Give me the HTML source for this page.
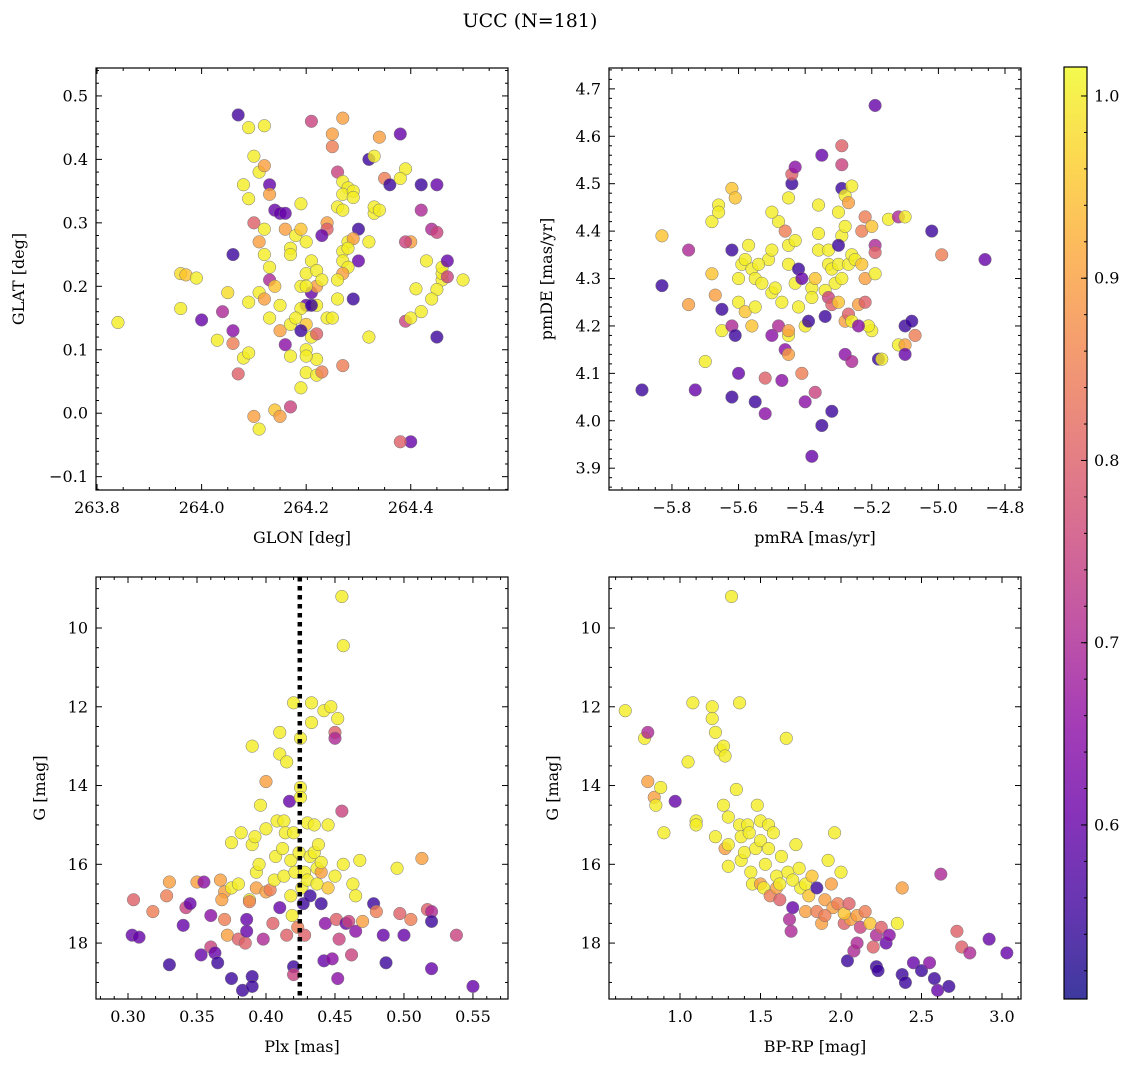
<!DOCTYPE html>
<html><head><meta charset="utf-8">
<style>
html,body{margin:0;padding:0;background:#fff;}
svg{display:block;font-family:"DejaVu Serif","Liberation Serif",serif;}
</style></head>
<body>
<svg id="fig" width="1136" height="1067" viewBox="0 0 1136 1067" xmlns="http://www.w3.org/2000/svg">
<defs>
<linearGradient id="cbgrad" x1="0" y1="1" x2="0" y2="0">
<stop offset="0" stop-color="#0d0887"/><stop offset="0.1" stop-color="#41049d"/><stop offset="0.2" stop-color="#6a00a8"/><stop offset="0.3" stop-color="#8f0da4"/><stop offset="0.4" stop-color="#b12a90"/><stop offset="0.5" stop-color="#cc4778"/><stop offset="0.6" stop-color="#e16462"/><stop offset="0.7" stop-color="#f2844b"/><stop offset="0.8" stop-color="#fca636"/><stop offset="0.9" stop-color="#fcce25"/><stop offset="1" stop-color="#f0f921"/>
</linearGradient>
</defs>
<text x="530" y="27" text-anchor="middle" font-size="19">UCC (N=181)</text>
</svg>
<script>
// ---- data ----
const p1X=[263.84,263.96,263.97,263.99,263.96,264.0,264.03,264.04,264.05,264.06,264.06,264.06,264.07,264.08,264.09,264.09,264.07,264.09,264.11,264.1,264.08,264.09,264.12,264.13,264.13,264.14,264.15,264.16,264.12,264.1,264.11,264.12,264.13,264.13,264.11,264.12,264.13,264.14,264.15,264.15,264.16,264.17,264.17,264.12,264.16,264.18,264.17,264.17,264.19,264.19,264.2,264.21,264.2,264.19,264.21,264.22,264.22,264.23,264.2,264.19,264.18,264.2,264.21,264.22,264.2,264.22,264.2,264.19,264.2,264.22,264.23,264.14,264.15,264.1,264.11,264.17,264.19,264.22,264.24,264.25,264.27,264.21,264.27,264.25,264.25,264.26,264.27,264.28,264.27,264.29,264.24,264.24,264.26,264.27,264.29,264.3,264.28,264.29,264.27,264.27,264.28,264.3,264.28,264.27,264.26,264.29,264.32,264.33,264.33,264.34,264.32,264.33,264.34,264.35,264.36,264.38,264.39,264.38,264.4,264.39,264.39,264.4,264.42,264.41,264.42,264.42,264.43,264.44,264.45,264.45,264.46,264.46,264.46,264.47,264.47,264.5,264.45,264.44,264.45,264.4,264.38,264.32,264.21,264.2,264.23,264.26];
const p1Y=[0.143,0.22,0.218,0.213,0.165,0.147,0.115,0.16,0.19,0.25,0.13,0.11,0.062,0.087,0.175,0.095,0.47,0.45,0.38,0.405,0.36,0.338,0.39,0.36,0.345,0.32,0.315,0.315,0.453,0.3,0.27,0.25,0.23,0.21,0.19,0.18,0.15,0.2,0.17,0.13,0.108,0.14,0.09,0.29,0.29,0.28,0.26,0.25,0.33,0.29,0.27,0.24,0.22,0.2,0.19,0.2,0.225,0.21,0.17,0.165,0.15,0.14,0.12,0.125,0.1,0.085,0.09,0.04,0.064,0.06,0.065,0.005,-0.005,-0.005,-0.025,0.01,0.13,0.17,0.15,0.15,0.075,0.46,0.465,0.44,0.42,0.38,0.365,0.355,0.345,0.35,0.3,0.29,0.325,0.32,0.34,0.29,0.27,0.275,0.255,0.24,0.26,0.24,0.23,0.22,0.21,0.18,0.27,0.315,0.325,0.32,0.4,0.405,0.435,0.37,0.36,0.44,0.385,0.37,0.27,0.27,0.145,0.15,0.16,0.196,0.36,0.32,0.24,0.29,0.285,0.36,0.21,0.22,0.23,0.24,0.215,0.21,0.195,0.18,0.12,-0.045,-0.045,0.12,0.17,0.2,0.28,0.18];
const p1C=[1.0,0.98,0.95,1.0,1.0,0.6,1.0,0.7,0.98,0.55,0.65,0.85,0.8,1.0,1.0,1.0,0.56,1.0,1.0,1.0,1.0,1.0,0.9,0.6,0.9,0.6,0.6,0.6,1.0,0.8,0.9,1.0,1.0,0.7,1.0,0.9,1.0,0.95,1.0,0.9,0.65,1.0,1.0,1.0,0.9,1.0,1.0,1.0,1.0,0.95,1.0,1.0,1.0,1.0,0.6,0.9,1.0,1.0,0.6,1.0,1.0,0.95,1.0,0.8,1.0,1.0,1.0,1.0,1.0,1.0,0.85,0.95,0.9,0.9,1.0,0.75,0.55,1.0,1.0,1.0,0.85,0.75,0.9,0.9,0.85,0.75,1.0,1.0,1.0,1.0,0.9,0.8,1.0,1.0,1.0,0.55,1.0,0.9,1.0,1.0,1.0,0.6,1.0,0.9,1.0,0.55,1.0,1.0,1.0,1.0,0.55,1.0,0.9,0.85,0.55,0.6,1.0,1.0,0.9,0.75,0.75,1.0,1.0,1.0,0.55,0.7,1.0,0.7,0.75,0.6,1.0,1.0,1.0,0.6,0.75,1.0,1.0,1.0,0.55,0.6,0.8,1.0,0.55,1.0,0.6,1.0];

const p2X=[-5.89,-5.83,-5.83,-5.75,-5.75,-5.73,-5.7,-5.68,-5.66,-5.66,-5.68,-5.67,-5.65,-5.65,-5.62,-5.62,-5.61,-5.6,-5.62,-5.62,-5.61,-5.6,-5.59,-5.58,-5.57,-5.56,-5.55,-5.6,-5.58,-5.56,-5.55,-5.55,-5.52,-5.52,-5.53,-5.51,-5.5,-5.49,-5.48,-5.5,-5.5,-5.48,-5.47,-5.46,-5.45,-5.47,-5.45,-5.45,-5.45,-5.46,-5.45,-5.45,-5.44,-5.44,-5.43,-5.43,-5.42,-5.41,-5.4,-5.41,-5.4,-5.39,-5.38,-5.37,-5.36,-5.36,-5.37,-5.36,-5.35,-5.34,-5.33,-5.33,-5.32,-5.31,-5.3,-5.34,-5.33,-5.32,-5.3,-5.29,-5.29,-5.28,-5.3,-5.29,-5.28,-5.27,-5.26,-5.27,-5.26,-5.25,-5.28,-5.27,-5.26,-5.29,-5.29,-5.3,-5.28,-5.26,-5.35,-5.32,-5.38,-5.23,-5.22,-5.23,-5.22,-5.24,-5.22,-5.2,-5.21,-5.19,-5.19,-5.19,-5.19,-5.18,-5.15,-5.12,-5.1,-5.12,-5.1,-5.1,-5.1,-5.08,-5.07,-5.02,-4.99,-4.86,-5.17,-5.2,-5.24,-5.38,-5.42,-5.43,-5.5,-5.54];
const p2Y=[4.065,4.285,4.39,4.36,4.245,4.065,4.125,4.42,4.455,4.44,4.31,4.265,4.235,4.19,4.05,4.2,4.18,4.1,4.36,4.49,4.47,4.3,4.33,4.34,4.37,4.32,4.3,4.25,4.23,4.2,4.24,4.04,4.015,4.09,4.29,4.34,4.27,4.28,4.42,4.44,4.18,4.2,4.25,4.15,4.14,4.085,4.33,4.18,4.19,4.4,4.37,4.47,4.5,4.52,4.535,4.29,4.32,4.3,4.2,4.1,4.04,4.21,4.28,4.3,4.36,4.395,4.06,4.455,4.56,4.22,4.33,4.36,4.32,4.29,4.33,4.275,4.26,4.245,4.25,4.3,4.39,4.41,4.44,4.49,4.475,4.46,4.495,4.33,4.35,4.34,4.21,4.225,4.21,4.58,4.54,4.37,4.14,4.125,3.99,4.02,3.925,4.33,4.3,4.4,4.43,4.245,4.25,4.19,4.2,4.37,4.355,4.31,4.665,4.13,4.425,4.43,4.43,4.16,4.16,4.2,4.14,4.21,4.18,4.4,4.35,4.34,4.13,4.41,4.2,4.26,4.24,4.38,4.36,4.33];
const p2C=[0.55,0.55,0.95,0.7,0.9,0.6,1.0,1.0,1.0,1.0,0.95,0.9,0.55,1.0,0.55,0.7,0.55,0.6,0.55,0.95,0.95,1.0,1.0,1.0,1.0,1.0,1.0,1.0,0.95,0.95,1.0,0.55,0.65,0.8,1.0,1.0,1.0,1.0,1.0,1.0,0.65,0.7,1.0,0.65,0.9,0.65,1.0,1.0,0.9,0.85,1.0,1.0,0.55,0.8,0.65,1.0,0.55,0.6,1.0,0.85,0.65,0.55,1.0,0.95,1.0,1.0,0.75,1.0,0.6,0.55,1.0,1.0,1.0,1.0,1.0,1.0,0.75,0.8,0.95,1.0,1.0,1.0,1.0,0.55,1.0,0.9,1.0,1.0,1.0,1.0,0.9,0.8,1.0,0.8,0.75,0.55,0.65,0.7,0.55,0.55,0.6,0.95,0.9,0.85,0.85,0.9,0.8,1.0,1.0,0.7,0.8,1.0,0.6,0.55,1.0,0.7,1.0,1.0,0.9,0.55,0.6,0.55,0.85,0.55,0.85,0.6,1.0,0.95,0.65,1.0,1.0,1.0,1.0,1.0];

const p3X=[0.303,0.308,0.304,0.318,0.328,0.33,0.33,0.34,0.342,0.35,0.353,0.355,0.36,0.363,0.365,0.367,0.37,0.368,0.37,0.372,0.375,0.375,0.375,0.38,0.38,0.382,0.383,0.385,0.386,0.386,0.388,0.388,0.39,0.39,0.39,0.39,0.392,0.393,0.393,0.395,0.396,0.398,0.4,0.4,0.403,0.4,0.405,0.406,0.407,0.408,0.41,0.41,0.41,0.412,0.413,0.414,0.413,0.415,0.415,0.417,0.418,0.418,0.419,0.42,0.42,0.42,0.42,0.421,0.423,0.424,0.425,0.425,0.425,0.426,0.427,0.428,0.428,0.43,0.43,0.432,0.432,0.433,0.433,0.435,0.435,0.437,0.437,0.438,0.44,0.44,0.44,0.442,0.442,0.443,0.445,0.445,0.447,0.448,0.45,0.45,0.45,0.451,0.452,0.452,0.453,0.455,0.455,0.456,0.456,0.458,0.46,0.462,0.463,0.465,0.465,0.468,0.47,0.478,0.48,0.485,0.487,0.495,0.497,0.5,0.505,0.513,0.517,0.52,0.52,0.52,0.538,0.55,0.345,0.36];
const p3Y=[17.8,17.85,16.9,17.2,16.8,16.45,18.55,17.55,17.1,16.45,18.3,16.45,18.1,18.25,18.5,16.4,16.7,16.9,17.4,17.8,16.6,15.45,18.9,17.9,16.5,15.2,19.2,18.0,17.4,17.7,16.9,16.95,15.5,13.0,18.85,19.1,15.3,16.2,16.6,16.0,14.5,17.9,15.1,16.7,16.65,13.9,17.5,16.4,15.8,14.9,17.1,12.65,13.2,15.6,14.9,15.2,16.3,13.4,17.8,14.4,16.8,15.9,17.3,18.6,18.8,15.2,11.9,16.2,17.6,15.7,12.8,14.05,14.3,16.6,17.0,16.2,17.8,14.95,16.4,15.8,16.8,12.4,11.9,15.0,15.7,16.1,16.5,15.5,17.0,16.2,15.95,12.1,18.45,17.5,15.0,16.6,12.0,18.4,16.3,12.65,12.8,17.4,12.3,18.9,17.9,14.65,9.2,10.45,16.0,17.5,17.45,18.3,16.5,16.8,17.7,15.9,17.45,17.0,17.2,17.8,18.5,16.1,17.25,17.8,17.4,15.85,17.15,17.2,18.65,17.45,17.8,19.1,17.0,17.3];
const p3C=[0.6,0.6,0.8,0.85,0.85,0.9,0.55,0.6,0.75,0.9,0.6,0.65,0.75,0.6,0.55,0.9,0.9,0.9,0.85,0.9,1.0,1.0,0.55,0.8,1.0,1.0,0.55,0.8,0.6,0.6,1.0,0.85,1.0,1.0,0.55,0.55,1.0,1.0,0.9,1.0,1.0,0.7,1.0,0.9,0.85,0.9,0.8,1.0,1.0,1.0,0.6,1.0,1.0,1.0,1.0,1.0,1.0,1.0,0.8,0.6,1.0,1.0,1.0,0.55,0.75,1.0,1.0,1.0,0.85,1.0,1.0,1.0,1.0,1.0,0.55,1.0,0.8,1.0,1.0,1.0,0.55,1.0,1.0,1.0,1.0,1.0,1.0,1.0,0.55,0.9,1.0,1.0,0.6,0.65,1.0,0.95,1.0,0.65,1.0,0.8,0.7,0.8,1.0,0.65,0.75,0.75,1.0,1.0,1.0,0.6,0.75,0.75,1.0,1.0,0.65,1.0,0.9,0.55,0.85,0.6,0.55,1.0,0.8,0.6,0.85,0.9,0.8,0.7,0.6,0.55,0.75,0.6,0.6,0.65];

const p4X=[0.66,0.78,0.8,0.8,0.84,0.85,0.88,0.9,0.97,1.05,1.08,1.1,1.1,1.2,1.2,1.22,1.25,1.27,1.28,1.22,1.27,1.3,1.28,1.3,1.3,1.32,1.37,1.35,1.37,1.38,1.38,1.42,1.4,1.43,1.44,1.45,1.47,1.48,1.5,1.5,1.5,1.52,1.53,1.55,1.55,1.56,1.58,1.6,1.6,1.62,1.63,1.66,1.67,1.68,1.69,1.7,1.72,1.74,1.75,1.78,1.78,1.8,1.82,1.85,1.88,1.9,1.92,1.94,1.95,1.96,1.98,2.0,2.02,2.04,2.06,2.08,2.1,2.1,2.12,2.15,2.18,2.2,2.22,2.22,2.23,2.25,2.28,2.3,2.35,2.38,2.38,2.4,2.45,2.5,2.55,2.58,2.6,2.62,2.67,2.72,2.75,2.8,2.92,3.03,1.62,1.7,1.85,1.9,2.02,2.05];
const p4Y=[12.1,12.8,12.65,13.9,14.3,14.5,14.05,15.2,14.4,13.4,11.9,14.9,15.0,12.0,12.3,12.65,13.1,13.0,13.25,15.3,14.5,14.8,15.6,15.5,16.05,9.2,11.9,14.1,15.0,15.3,15.9,15.0,15.7,15.2,16.2,16.5,15.6,14.5,14.9,15.4,16.5,16.6,16.0,15.0,15.6,16.8,15.2,16.3,16.6,16.9,15.8,12.8,16.2,17.4,17.7,17.1,15.5,16.1,16.6,16.5,17.2,16.8,16.3,16.6,17.5,16.9,15.9,16.5,17.1,15.2,17.0,16.2,17.5,18.45,17.4,18.2,17.3,18.0,17.6,17.2,17.5,18.1,17.8,18.6,18.7,17.6,18.0,17.8,17.5,16.6,18.8,19.0,18.5,18.7,18.5,18.9,19.2,16.25,19.1,17.7,18.1,18.25,17.9,18.25,16.5,16.4,17.2,17.3,17.25,17.0];
const p4C=[1.0,1.0,0.7,0.9,0.9,1.0,1.0,1.0,0.6,1.0,1.0,1.0,1.0,1.0,1.0,1.0,1.0,1.0,1.0,1.0,1.0,1.0,0.9,1.0,1.0,1.0,1.0,1.0,1.0,1.0,1.0,1.0,1.0,1.0,1.0,1.0,1.0,1.0,1.0,1.0,0.9,1.0,1.0,1.0,1.0,0.85,1.0,1.0,0.9,0.8,1.0,1.0,1.0,0.7,0.7,0.6,1.0,1.0,1.0,1.0,0.9,0.95,0.95,0.55,0.9,0.9,1.0,0.9,0.9,1.0,0.85,1.0,0.8,0.55,0.9,0.7,0.9,0.7,0.75,0.85,0.95,0.8,0.7,0.55,0.55,0.8,0.6,0.65,1.0,0.9,0.55,0.55,0.6,0.55,0.65,0.55,0.6,0.7,0.55,0.8,0.8,0.7,0.6,0.6,1.0,1.0,0.85,0.85,0.95,0.8];

const cbTicks=[0.6,0.7,0.8,0.9,1.0];
const plxLine=[0.4245];

// ---- helpers ----
const NS="http://www.w3.org/2000/svg";
const svg=document.getElementById('fig');
const CMIN=0.5045, CMAX=1.0159;
const stops=[[13,8,135],[65,4,157],[106,0,168],[143,13,164],[177,42,144],[204,71,120],[225,100,98],[242,132,75],[252,166,54],[252,206,37],[240,249,33]];
function plasma(v){let t=Math.max(0,Math.min(1,(v-CMIN)/(CMAX-CMIN)))*10;let i=Math.min(9,Math.floor(t)),f=t-i;const a=stops[i],b=stops[i+1];return 'rgb('+a.map((x,k)=>Math.round(x+(b[k]-x)*f)).join(',')+')';}
function mk(tag,attrs,parent){const e=document.createElementNS(NS,tag);for(const k in attrs)e.setAttribute(k,attrs[k]);(parent||svg).appendChild(e);return e;}
function fmt(v,d){return (v<0?'\u2212':'')+Math.abs(v).toFixed(d);}

function panel(cfg){
  const {L,T,W,H,xmin,xmax,ymin,ymax,inv}=cfg;
  const sx=v=>L+(v-xmin)/(xmax-xmin)*W;
  const sy=inv?(v=>T+(v-ymin)/(ymax-ymin)*H):(v=>T+H-(v-ymin)/(ymax-ymin)*H);
  const g=mk('g',{});
  
  
  const clip=mk('clipPath',{id:cfg.name+'-clip'},g);
  mk('rect',{x:L,y:T,width:W,height:H},clip);
  const pts=mk('g',{'clip-path':'url(#'+cfg.name+'-clip)'},g);
  for(let i=0;i<cfg.X.length;i++){
    const c=mk('circle',{cx:sx(cfg.X[i]),cy:sy(cfg.Y[i]),r:6.3,fill:plasma(cfg.C[i]),'fill-opacity':0.8,stroke:'#777','stroke-width':0.5},pts);
    
    
  }
  if(cfg.vline){
    const l=mk('line',{x1:sx(cfg.vline[0]),x2:sx(cfg.vline[0]),y1:T,y2:T+H,stroke:'#000','stroke-width':4.5,'stroke-dasharray':'4.5,4.5'},pts);
    
    
  }
  const fr=mk('rect',{x:L,y:T,width:W,height:H,fill:'none',stroke:'#000','stroke-width':1.2},g);
  
  
  const tk=mk('g',{stroke:'#000','stroke-width':1},g);
  const eps=1e-9;
  for(let v=Math.ceil(xmin/cfg.xmin_s-eps)*cfg.xmin_s; v<=xmax+eps; v+=cfg.xmin_s){
    const isMaj=Math.abs(v/cfg.xmaj-Math.round(v/cfg.xmaj))<1e-4;
    const len=isMaj?6:3, x=sx(v);
    mk('line',{x1:x,x2:x,y1:T+H,y2:T+H-len},tk);
    mk('line',{x1:x,x2:x,y1:T,y2:T+len},tk);
    if(isMaj){const t=mk('text',{x:x,y:T+H+23,'text-anchor':'middle','font-size':16,stroke:'none'},g);t.textContent=fmt(v,cfg.xd);
      }
  }
  const y0=Math.min(ymin,ymax),y1=Math.max(ymin,ymax);
  for(let v=Math.ceil(y0/cfg.ymin_s-eps)*cfg.ymin_s; v<=y1+eps; v+=cfg.ymin_s){
    const isMaj=Math.abs(v/cfg.ymaj-Math.round(v/cfg.ymaj))<1e-4;
    const len=isMaj?6:3, y=sy(v);
    mk('line',{x1:L,x2:L+len,y1:y,y2:y},tk);
    mk('line',{x1:L+W,x2:L+W-len,y1:y,y2:y},tk);
    if(isMaj){const t=mk('text',{x:L-8,y:y+5.5,'text-anchor':'end','font-size':16,stroke:'none'},g);t.textContent=fmt(Math.abs(v)<1e-9?0:v,cfg.yd);
      }
  }
  const xl=mk('text',{x:L+W/2,y:T+H+53,'text-anchor':'middle','font-size':16},g);xl.textContent=cfg.xlabel;
  
  const yl=mk('text',{x:cfg.ylx,y:T+H/2,'text-anchor':'middle','font-size':16,transform:'rotate(-90 '+cfg.ylx+' '+(T+H/2)+')'},g);yl.textContent=cfg.ylabel;
  
}

panel({name:'glon-glat-panel',L:96,T:68,W:412,H:422,xmin:263.798,xmax:264.586,ymin:-0.121,ymax:0.544,xmaj:0.2,xmin_s:0.05,ymaj:0.1,ymin_s:0.02,xd:1,yd:1,X:p1X,Y:p1Y,C:p1C,xlabel:'GLON [deg]',ylabel:'GLAT [deg]',ylx:24});
panel({name:'proper-motion-panel',L:609,T:68,W:412,H:422,xmin:-5.989,xmax:-4.752,ymin:3.854,ymax:4.744,xmaj:0.2,xmin_s:0.05,ymaj:0.1,ymin_s:0.02,xd:1,yd:1,X:p2X,Y:p2Y,C:p2C,xlabel:'pmRA [mas/yr]',ylabel:'pmDE [mas/yr]',ylx:552});
panel({name:'plx-g-panel',L:96,T:577,W:412,H:422,xmin:0.2768,xmax:0.5754,ymin:8.705,ymax:19.42,inv:true,xmaj:0.05,xmin_s:0.01,ymaj:2,ymin_s:0.5,xd:2,yd:0,X:p3X,Y:p3Y,C:p3C,xlabel:'Plx [mas]',ylabel:'G [mag]',ylx:45,vline:plxLine});
panel({name:'cmd-panel',L:609,T:577,W:412,H:422,xmin:0.559,xmax:3.118,ymin:8.705,ymax:19.42,inv:true,xmaj:0.5,xmin_s:0.1,ymaj:2,ymin_s:0.5,xd:1,yd:0,X:p4X,Y:p4Y,C:p4C,xlabel:'BP-RP [mag]',ylabel:'G [mag]',ylx:558});

// colorbar
const cb=mk('g',{});


const CL=1064,CT=67,CW=23,CH=932;
const cy=v=>CT+CH-(v-CMIN)/(CMAX-CMIN)*CH;
mk('rect',{x:CL,y:CT,width:CW,height:CH,fill:'url(#cbgrad)','fill-opacity':0.8},cb);
mk('rect',{x:CL,y:CT,width:CW,height:CH,fill:'none',stroke:'#000','stroke-width':1.2},cb);
for(let v=0.52;v<=1.0+1e-9;v+=0.02){const y=cy(v);mk('line',{x1:CL+CW,x2:CL+CW-3,y1:y,y2:y,stroke:'#000','stroke-width':1},cb);}
cbTicks.forEach(v=>{const y=cy(v);mk('line',{x1:CL+CW,x2:CL+CW-6,y1:y,y2:y,stroke:'#000','stroke-width':1},cb);
  const t=mk('text',{x:CL+CW+7,y:y+5.5,'font-size':16},cb);t.textContent=v.toFixed(1);
  });
</script>
</body></html>
